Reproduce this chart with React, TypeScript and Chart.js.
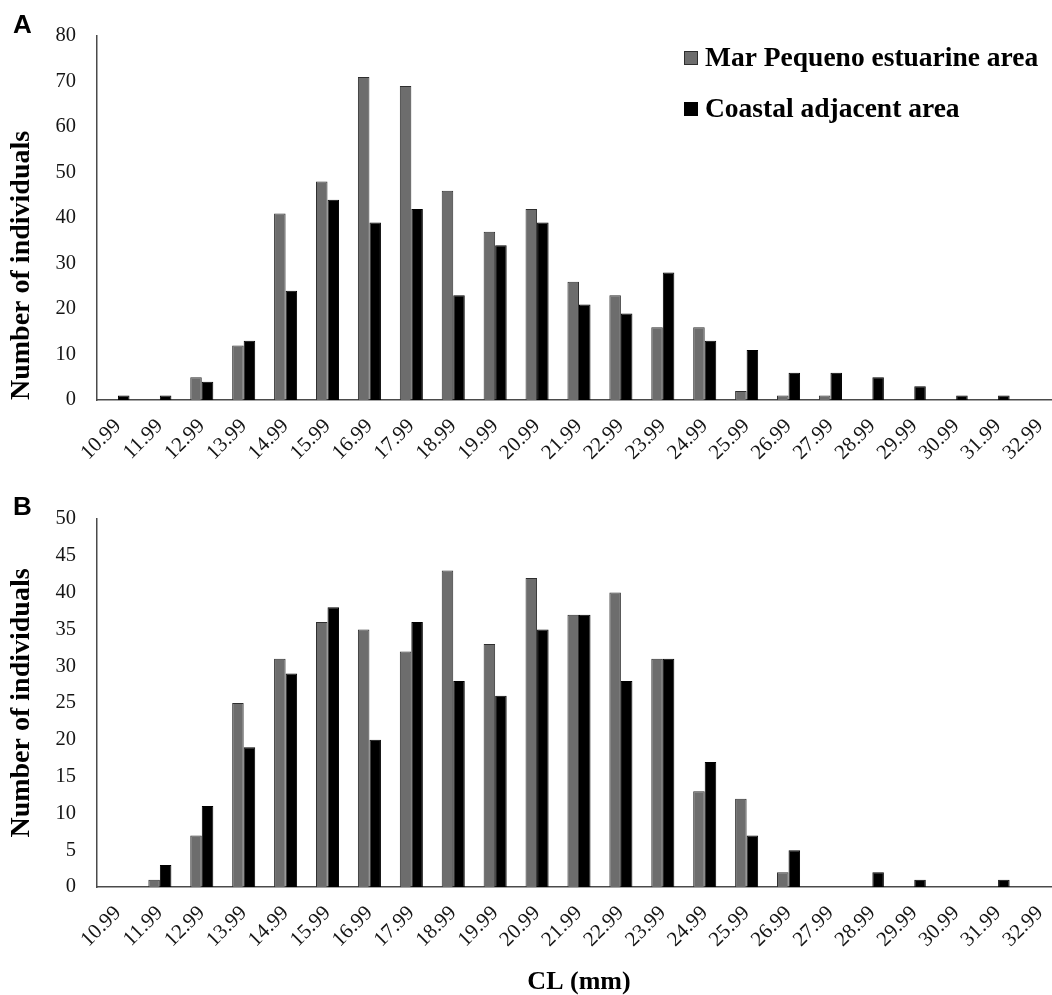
import React, { useEffect, useRef } from "react";
import { Chart, registerables } from "chart.js";

Chart.register(...registerables);

// ---- data ----
const categories = [
  "10.99", "11.99", "12.99", "13.99", "14.99", "15.99", "16.99", "17.99",
  "18.99", "19.99", "20.99", "21.99", "22.99", "23.99", "24.99", "25.99",
  "26.99", "27.99", "28.99", "29.99", "30.99", "31.99", "32.99",
];
const seriesLabels = ["Mar Pequeno estuarine area", "Coastal adjacent area"];

const estuarineA = [0, 0, 5, 12, 41, 48, 71, 69, 46, 37, 42, 26, 23, 16, 16, 2, 1, 1, 0, 0, 0, 0, 0];
const coastalA = [1, 1, 4, 13, 24, 44, 39, 42, 23, 34, 39, 21, 19, 28, 13, 11, 6, 6, 5, 3, 1, 1, 0];

const estuarineB = [0, 1, 7, 25, 31, 36, 35, 32, 43, 33, 42, 37, 40, 31, 13, 12, 2, 0, 0, 0, 0, 0, 0];
const coastalB = [0, 3, 11, 19, 29, 38, 20, 36, 28, 26, 35, 37, 28, 31, 17, 7, 5, 0, 2, 1, 0, 1, 0];

const yMaxA = 80;
const yStepA = 10;
const yMaxB = 50;
const yStepB = 5;

const yTitle = "Number of individuals";
const xTitle = "CL (mm)";

// ---- styles ----
const SERIF = "'Liberation Serif', 'Times New Roman', serif";
const SANS = "'Liberation Sans', Arial, sans-serif";
const GRAY = "#6d6d6d";
const GRAY_EDGE = "#2e2e2e";
const BLACK = "#000000";
const AXIS = "#4a4a4a";
const TXT = "#151515";

type PanelProps = {
  letter: string;
  est: number[];
  coa: number[];
  yMax: number;
  yStep: number;
  width: number;
  height: number;
  top: number;
  padTop: number;
  xAxisHeight: number;
  showLegend: boolean;
  showXTitle: boolean;
  yTitleAlign: "start" | "center" | "end";
  letterBaseline: number;
};

function Panel(p: PanelProps) {
  const ref = useRef<HTMLCanvasElement | null>(null);

  useEffect(() => {
    const canvas = ref.current;
    if (!canvas) return;

    const panelPlugin = {
      id: "panelDecor" + p.letter,
      afterDraw(chart: any) {
        const ctx = chart.ctx as CanvasRenderingContext2D;
        ctx.save();
        ctx.fillStyle = "#000";
        ctx.font = `bold 26px ${SANS}`;
        ctx.textAlign = "left";
        ctx.textBaseline = "alphabetic";
        ctx.fillText(p.letter, 13, p.letterBaseline);

        if (p.showLegend) {
          const ds = chart.data.datasets;
          const items = [
            { label: ds[0].label, fill: GRAY, edge: GRAY_EDGE, y: 51, base: 66 },
            { label: ds[1].label, fill: BLACK, edge: BLACK, y: 102, base: 117 },
          ];
          ctx.font = `bold 27.5px ${SERIF}`;
          for (const it of items) {
            ctx.fillStyle = it.fill;
            ctx.fillRect(684, it.y, 14, 14);
            ctx.strokeStyle = it.edge;
            ctx.lineWidth = 1;
            ctx.strokeRect(684.5, it.y + 0.5, 13, 13);
            ctx.fillStyle = "#000";
            ctx.fillText(it.label, 705, it.base);
          }
        }
        ctx.restore();
      },
    };

    const chart = new Chart(canvas, {
      type: "bar",
      data: {
        labels: categories,
        datasets: [
          {
            label: seriesLabels[0],
            data: p.est,
            backgroundColor: GRAY,
            borderColor: GRAY_EDGE,
            borderWidth: 1,
            categoryPercentage: 0.55,
            barPercentage: 1,
          },
          {
            label: seriesLabels[1],
            data: p.coa,
            backgroundColor: BLACK,
            borderColor: BLACK,
            borderWidth: 1,
            categoryPercentage: 0.55,
            barPercentage: 1,
          },
        ],
      },
      options: {
        responsive: false,
        animation: false,
        devicePixelRatio: 1,
        layout: { padding: { top: p.padTop, right: 8, left: 0, bottom: 0 } },
        plugins: {
          legend: { display: false },
          tooltip: { enabled: false },
        },
        scales: {
          x: {
            grid: { display: false, drawTicks: false },
            border: { display: true, color: AXIS, width: 1.5 },
            ticks: {
              autoSkip: false,
              minRotation: 45,
              maxRotation: 45,
              padding: 14,
              color: TXT,
              font: { family: SERIF, size: 21 },
            },
            title: {
              display: p.showXTitle,
              text: xTitle,
              color: "#000",
              font: { family: SERIF, size: 26, weight: "bold" },
              padding: { top: 0, bottom: 2 },
            },
            afterFit: (s: any) => {
              s.height = p.xAxisHeight;
            },
          },
          y: {
            min: 0,
            max: p.yMax,
            grid: { display: false, drawTicks: false },
            border: { display: true, color: AXIS, width: 1.5 },
            ticks: {
              stepSize: p.yStep,
              padding: 21,
              color: TXT,
              font: { family: SERIF, size: 20.5 },
            },
            title: {
              display: true,
              text: yTitle,
              align: p.yTitleAlign,
              color: "#000",
              font: { family: SERIF, size: 28, weight: "bold" },
              padding: { top: 5, bottom: 0 },
            },
            afterFit: (s: any) => {
              s.width = 97;
            },
          },
        },
      } as any,
      plugins: [panelPlugin],
    });

    return () => {
      chart.destroy();
    };
  }, []);

  return (
    <canvas
      ref={ref}
      width={p.width}
      height={p.height}
      style={{
        position: "absolute",
        left: 0,
        top: p.top,
        width: p.width,
        height: p.height,
        display: "block",
      }}
    />
  );
}

export default function App() {
  return (
    <div
      style={{
        position: "absolute",
        left: 0,
        top: 0,
        width: 1052,
        height: 995,
        overflow: "hidden",
        background: "#fff",
      }}
    >
      <Panel
        letter="A"
        est={estuarineA}
        coa={coastalA}
        yMax={yMaxA}
        yStep={yStepA}
        width={1072}
        height={470}
        top={0}
        padTop={36}
        xAxisHeight={70}
        showLegend={true}
        showXTitle={false}
        yTitleAlign="start"
        letterBaseline={33}
      />
      <Panel
        letter="B"
        est={estuarineB}
        coa={coastalB}
        yMax={yMaxB}
        yStep={yStepB}
        width={1072}
        height={530}
        top={470}
        padTop={49}
        xAxisHeight={113}
        showLegend={false}
        showXTitle={true}
        yTitleAlign="center"
        letterBaseline={45}
      />
    </div>
  );
}
